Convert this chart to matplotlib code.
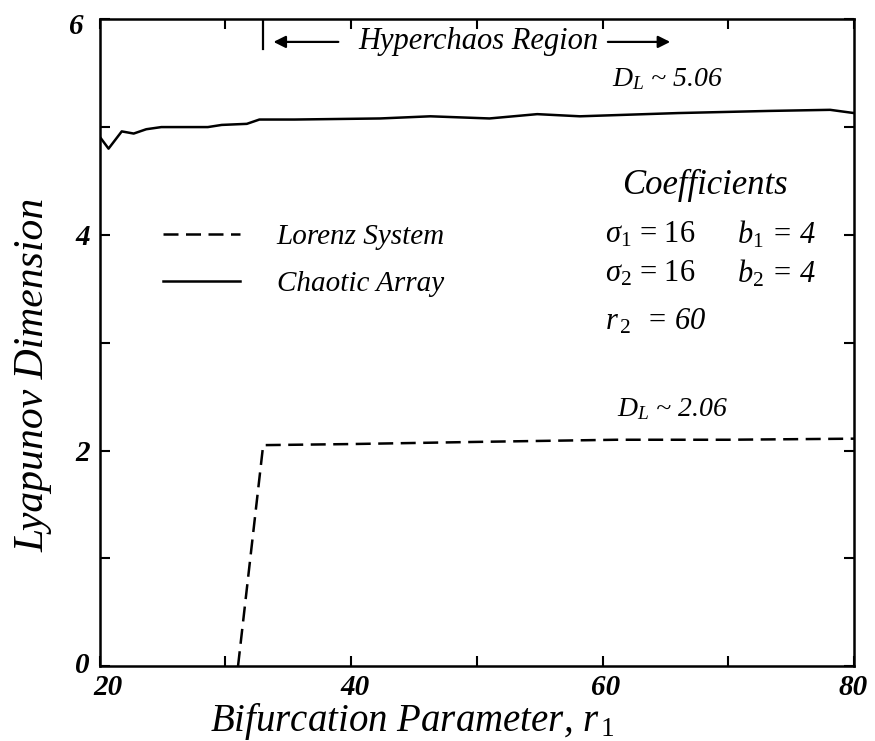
import matplotlib
matplotlib.use("Agg")
import matplotlib.pyplot as plt
import matplotlib.transforms as mtransforms

plt.rcParams['font.family'] = ['Liberation Serif', 'DejaVu Serif']
plt.rcParams['mathtext.fontset'] = 'custom'
plt.rcParams['mathtext.rm'] = 'Liberation Serif'
plt.rcParams['mathtext.it'] = 'Liberation Serif:italic'

# chaotic array (coupled Lorenz systems)
r_array = [20.0, 20.7, 21.75, 22.7, 23.7, 24.9, 28.6, 29.7, 31.7, 32.7, 35.5,
           42.3, 46.3, 51.0, 54.8, 58.2, 66.0, 73.3, 78.1, 80.0]
dl_array = [4.91, 4.80, 4.96, 4.94, 4.98, 5.00, 5.00, 5.02, 5.03, 5.07, 5.07,
            5.08, 5.10, 5.08, 5.12, 5.10, 5.13, 5.15, 5.16, 5.13]

# single Lorenz system
r_lorenz = [31.0, 33.0, 40.0, 50.0, 61.1, 70.0, 80.0]
dl_lorenz = [0.0, 2.05, 2.06, 2.08, 2.10, 2.10, 2.11]

hyper_start = 33.0

fig = plt.figure(figsize=(8.75, 7.41), dpi=100)
ax = fig.add_axes([0.114, 0.101, 0.862, 0.873])

ax.plot(r_lorenz, dl_lorenz, color='black', lw=1.8, dashes=(6, 3),
        label='Lorenz System')
ax.plot(r_array, dl_array, color='black', lw=1.8, label='Chaotic Array')

ax.set_xlim(20, 80)
ax.set_ylim(0, 6)
ax.set_xticks([20, 40, 60, 80])
ax.set_xticks([30, 50, 70], minor=True)
ax.set_yticks([0, 2, 4, 6])
ax.set_yticks([1, 3, 5], minor=True)
for s in ax.spines.values():
    s.set_linewidth(1.8)
ax.tick_params(which='both', direction='in', top=True, right=True,
               length=7, width=1.5)
ax.tick_params(axis='x', which='major', labelsize=21, pad=6)
ax.tick_params(axis='y', which='major', labelsize=21, pad=7)
for lab in ax.get_xticklabels() + ax.get_yticklabels():
    lab.set_style('italic')
    lab.set_fontweight('bold')

# nudge tick labels like the hand-set originals
xoffs = [8, 4, 3, -1]
for lab, dx in zip(ax.get_xticklabels(), xoffs):
    lab.set_transform(lab.get_transform() +
                      mtransforms.ScaledTranslation(dx / 100, 0, fig.dpi_scale_trans))
yoffs = [(0, 4), (0, 0), (0, 0), (-6, -4)]
for lab, (dx, dy) in zip(ax.get_yticklabels(), yoffs):
    lab.set_transform(lab.get_transform() +
                      mtransforms.ScaledTranslation(dx / 100, dy / 100, fig.dpi_scale_trans))

ax.text(0.415, -0.1, r'Bifurcation Parameter, $r_{\,1}$', transform=ax.transAxes,
        ha='center', va='baseline', fontsize=28, style='italic')
ax.text(-0.088, 0.45, 'Lyapunov Dimension', transform=ax.transAxes,
        ha='center', va='center', fontsize=30, style='italic', rotation=90)

# hyperchaos region marker
ax.plot([hyper_start, hyper_start], [6, 5.72], color='black', lw=1.6)
ax.annotate('', xy=(33.6, 5.79), xytext=(39.2, 5.79),
            arrowprops=dict(arrowstyle='-|>', color='black', lw=1.6,
                            mutation_scale=18))
ax.annotate('', xy=(65.6, 5.79), xytext=(60.2, 5.79),
            arrowprops=dict(arrowstyle='-|>', color='black', lw=1.6,
                            mutation_scale=18))
ax.text(50.1, 5.79, 'Hyperchaos Region', ha='center', va='center',
        fontsize=22, style='italic')

ax.text(65.2, 5.44, r'$D_L$ ~ 5.06', ha='center', va='center',
        fontsize=20, style='italic')
ax.text(65.6, 2.38, r'$D_L$ ~ 2.06', ha='center', va='center',
        fontsize=20, style='italic')

ax.text(68.1, 4.46, 'Coefficients', ha='center', va='center',
        fontsize=25, style='italic')
ax.text(60.2, 4.0, r'$\sigma_{\mathit{1}}$ = 16', ha='left', va='center', fontsize=22)
ax.text(70.7, 4.0, r'$b_{\mathit{1}}$ = 4', ha='left', va='center', fontsize=22,
        style='italic')
ax.text(60.2, 3.64, r'$\sigma_2$ = 16', ha='left', va='center', fontsize=22)
ax.text(70.7, 3.64, r'$b_2$ = 4', ha='left', va='center', fontsize=22,
        style='italic')
ax.text(60.2, 3.19, r'$r_{\,2}$  = 60', ha='left', va='center', fontsize=22,
        style='italic')

leg = ax.legend(loc='upper left', bbox_to_anchor=(0.049, 0.725), frameon=False,
                handlelength=2.65, handletextpad=1.25, labelspacing=0.72,
                prop=dict(family='Liberation Serif', style='italic', size=21))

fig.savefig('out.png', dpi=100)
